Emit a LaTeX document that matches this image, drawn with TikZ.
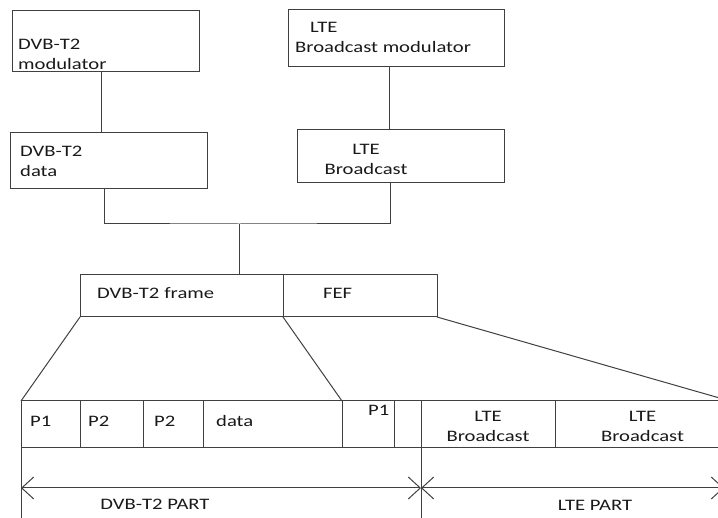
\documentclass[tikz,border=0pt]{standalone}
\usepackage{fontspec}
\setmainfont{Carlito}[FakeStretch=1.29]
\usetikzlibrary{positioning,arrows.meta}

\begin{document}
\begin{tikzpicture}[
  x=1pt, y=-1pt,
  node distance=0pt,
  every node/.style={font=\fontsize{16}{20}\selectfont, text=black!90},
  box/.style={draw=black!75, line width=1pt, inner sep=0pt, outer sep=0pt,
               anchor=north west},
  cell/.style={box, minimum height=47pt},
  lbl/.style={inner sep=0pt, anchor=base west, align=left},
  clbl/.style={inner sep=0pt, anchor=base, align=center},
  wire/.style={draw=black!75, line width=1pt},
  dim/.style={wire, {Straight Barb[length=12pt,width=22pt]}-{Straight Barb[length=12pt,width=22pt]}}
]
\clip (0,0) rectangle (718,518);
% sources
\node[box, minimum width=187pt, minimum height=61pt] (dvbmod) at (12,11) {};
\node[box, minimum width=197pt, minimum height=56pt] (dvbdata) at (10,133) {};
\node[box, minimum width=216pt, minimum height=57pt] (ltemod) at (288,10) {};
\node[box, minimum width=207pt, minimum height=53pt] (ltedata) at (297,130) {};
\node[lbl] at (18,70) {DVB-T2\\modulator};
\node[lbl] at (20,177) {DVB-T2\\data};
\node[lbl] at (295,53) {\hspace{15pt}LTE\\Broadcast modulator};
\node[clbl] at (366,175) {LTE\\Broadcast};
% super frame
\node[box, minimum width=203pt, minimum height=42pt] (frame) at (80,275) {};
\node[box, minimum width=154pt, minimum height=42pt, right=of frame] (fef) {};
\node[lbl] at (97,299) {DVB-T2\hspace{5pt}frame};
\node[lbl] at (323,299) {FEF};
% bottom row
\node[cell, minimum width=59pt] (c1) at (21,401) {};
\node[cell, minimum width=63pt, right=of c1] (c2) {};
\node[cell, minimum width=60pt, right=of c2] (c3) {};
\node[cell, minimum width=139pt, right=of c3] (c4) {};
\node[cell, minimum width=52pt, right=of c4] (c5) {};
\node[cell, minimum width=27pt, right=of c5] (c6) {};
\node[cell, minimum width=134pt, right=of c6] (c7) {};
\node[cell, minimum width=175pt, right=of c7] (c8) {};
\node[lbl] at (30,427) {P1};
\node[lbl] at (88,427) {P2};
\node[lbl] at (154,427) {P2};
\node[lbl] at (216,427) {data};
\node[lbl] at (368,416) {P1};
\node[clbl] at (c7.center |- 0,442) {LTE\\Broadcast};
\node[clbl] at (c8.center |- 0,442) {LTE\\Broadcast};
% connectors
\coordinate (join) at (239,224);
\draw[wire] ([xshift=-4pt]dvbmod.south) -- ([xshift=-4pt]dvbmod.south |- dvbdata.north);
\draw[wire] ([xshift=-7pt]ltemod.south) -- ([xshift=-7pt]ltemod.south |- ltedata.north);
\draw[wire] ([xshift=-4pt]dvbdata.south) |- (join) -| ([xshift=-10pt]ltedata.south);
\draw[wire] (join) -- (join |- frame.north);
\draw[wire] (frame.south west) -- (c1.north west);
\draw[wire] (frame.south east) -- (c4.north east);
\draw[wire] (fef.south east) -- (c8.north east);
% parts
\coordinate (pl) at (21,488);
\coordinate (pm) at (421,488);
\coordinate (pr) at (724,488);
\draw[wire] (c1.south west) -- ++(0,80);
\draw[wire] (c7.south west) -- ++(0,80);
\draw[dim] (pl) -- (pm);
\draw[dim] (pm) -- (pr);
\node[clbl] at (155,510) {DVB-T2 PART};
\node[clbl] at (595,511) {LTE PART};
\end{tikzpicture}
\end{document}
